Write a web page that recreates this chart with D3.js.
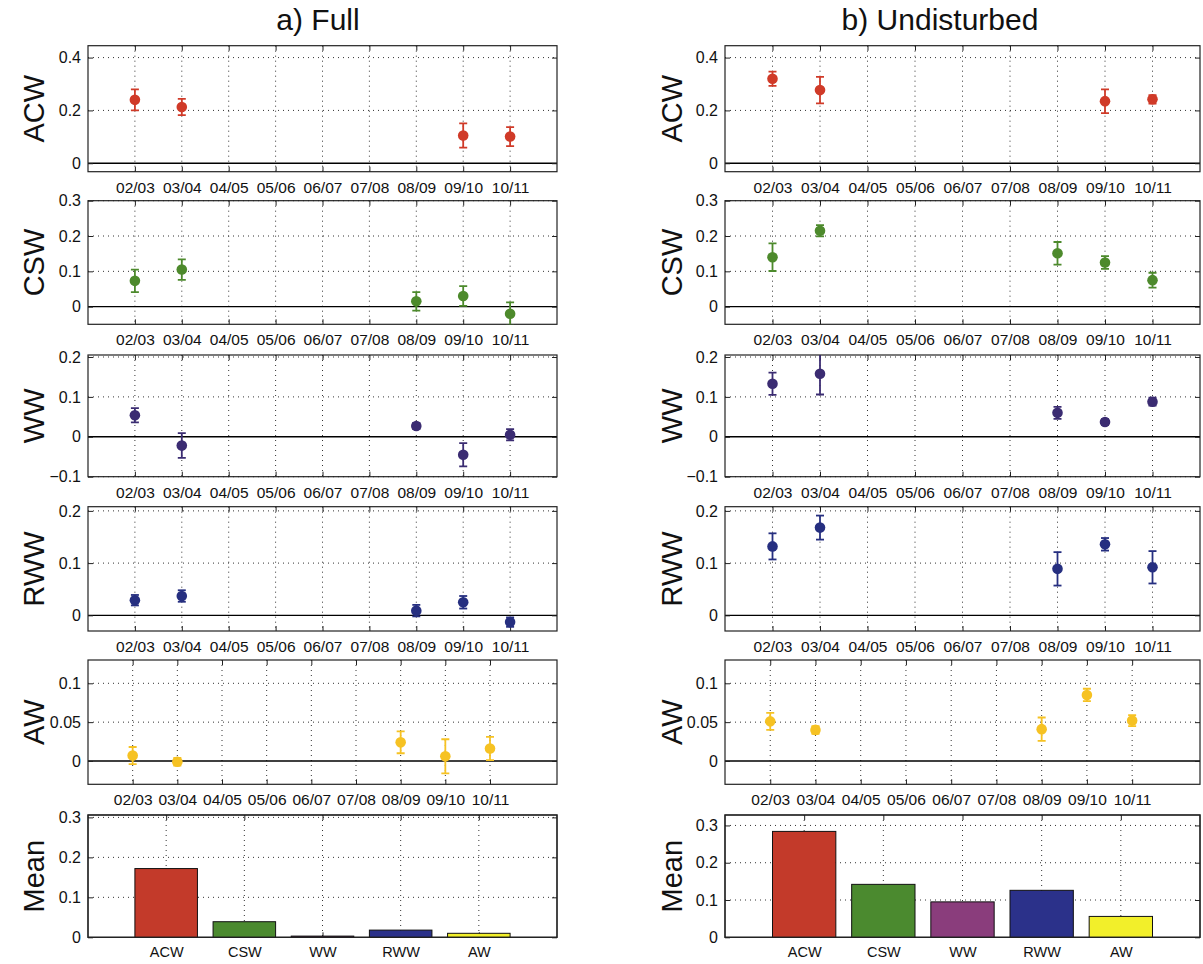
<!DOCTYPE html>
<html><head><meta charset="utf-8">
<script src="https://cdn.jsdelivr.net/npm/d3@7"></script>
<style>
body{margin:0;background:#fff;}
svg{display:block;font-family:"Liberation Sans",Arial,Helvetica,sans-serif;}
</style></head><body><svg id="chart" width="1203" height="964"></svg>
<script>
// ---------- data ----------
const seasons = ["02/03","03/04","04/05","05/06","06/07","07/08","08/09","09/10","10/11"];
const waterTypes = ["ACW","CSW","WW","RWW","AW"];

// a) Full : values and error half-widths per season (null = no data)
const fullACW    = [0.240, 0.213, null, null, null, null, null, 0.105, 0.101];
const fullACWErr = [0.040, 0.031, null, null, null, null, null, 0.046, 0.036];
const fullCSW    = [0.073, 0.105, null, null, null, null, 0.015, 0.030, -0.020];
const fullCSWErr = [0.032, 0.029, null, null, null, null, 0.026, 0.028, 0.032];
const fullWW     = [0.054, -0.022, null, null, null, null, 0.027, -0.045, 0.005];
const fullWWErr  = [0.018, 0.031, null, null, null, null, 0.008, 0.029, 0.014];
const fullRWW    = [0.029, 0.037, null, null, null, null, 0.009, 0.025, -0.013];
const fullRWWErr = [0.010, 0.011, null, null, null, null, 0.011, 0.012, 0.009];
const fullAW     = [0.007, -0.001, null, null, null, null, 0.024, 0.006, 0.016];
const fullAWErr  = [0.011, 0.005, null, null, null, null, 0.014, 0.022, 0.015];
const fullMean   = [0.172, 0.039, 0.003, 0.018, 0.010];

// b) Undisturbed
const undACW    = [0.320, 0.277, null, null, null, null, null, 0.235, 0.242];
const undACWErr = [0.027, 0.050, null, null, null, null, null, 0.045, 0.016];
const undCSW    = [0.140, 0.215, null, null, null, null, 0.151, 0.125, 0.075];
const undCSWErr = [0.039, 0.016, null, null, null, null, 0.032, 0.018, 0.021];
const undWW     = [0.133, 0.158, null, null, null, null, 0.060, 0.037, 0.088];
const undWWErr  = [0.028, 0.052, null, null, null, null, 0.015, 0.007, 0.010];
const undRWW    = [0.132, 0.168, null, null, null, null, 0.089, 0.136, 0.092];
const undRWWErr = [0.025, 0.023, null, null, null, null, 0.032, 0.012, 0.031];
const undAW     = [0.051, 0.040, null, null, null, null, 0.041, 0.085, 0.052];
const undAWErr  = [0.011, 0.005, null, null, null, null, 0.015, 0.008, 0.007];
const undMean   = [0.284, 0.142, 0.095, 0.126, 0.056];

// tick labels
const yTicksACW  = [0, 0.2, 0.4];
const yTicksCSW  = [0, 0.1, 0.2, 0.3];
const yTicksWW   = [-0.1, 0, 0.1, 0.2];
const yTicksRWW  = [0, 0.1, 0.2];
const yTicksAW   = [0, 0.05, 0.1];
const yTicksMean = [0, 0.1, 0.2, 0.3];

// ---------- styling / layout ----------
const markerColors = {ACW:"#d03a28", CSW:"#4d8a2c", WW:"#3b2c72", RWW:"#262f80", AW:"#f6c223"};
const barColors    = {ACW:"#c33a2a", CSW:"#4b8a2f", WW:"#8a3d7c", RWW:"#2b318a", AW:"#f2ef2a"};
const FONT = '"Liberation Sans",Arial,sans-serif';

const columns = [
  {title:"a) Full", titleX:318, x0:88, x1:557, ylabX:34,
   series:[[fullACW,fullACWErr],[fullCSW,fullCSWErr],[fullWW,fullWWErr],[fullRWW,fullRWWErr],[fullAW,fullAWErr]],
   mean:fullMean, meanMax:0.306},
  {title:"b) Undisturbed", titleX:940, x0:725, x1:1200, ylabX:672,
   series:[[undACW,undACWErr],[undCSW,undCSWErr],[undWW,undWWErr],[undRWW,undRWWErr],[undAW,undAWErr]],
   mean:undMean, meanMax:0.328}
];
const rows = [
  {name:"ACW", top:45.7, bottom:171.7, dom:[-0.032,0.445], ticks:yTicksACW, xmax:10},
  {name:"CSW", top:200.7, bottom:324.3, dom:[-0.05,0.3], ticks:yTicksCSW, xmax:10},
  {name:"WW",  top:355, bottom:476.7, dom:[-0.1,0.205], ticks:yTicksWW, xmax:10},
  {name:"RWW", top:506.7, bottom:631, dom:[-0.03,0.208], ticks:yTicksRWW, xmax:10},
  {name:"AW",  top:660, bottom:784.3, dom:[-0.03,0.13], ticks:yTicksAW, xmax:10.5}
];
const meanRow = {top:815, bottom:937.3};

const svg = d3.select("#chart");
const fmt = v => v === 0 ? "0" : d3.format("~g")(v);
let clipId = 0;

function frameAndGrid(g, x, y, xt, yt, w, h, zeroLine) {
  g.append("g").selectAll("line").data(xt).join("line")
    .attr("x1", d => x(d)).attr("x2", d => x(d)).attr("y1", 0).attr("y2", h)
    .attr("stroke", "#333").attr("stroke-width", 1).attr("stroke-dasharray", "1,4");
  g.append("g").selectAll("line").data(yt.filter(d => d !== 0)).join("line")
    .attr("x1", 0).attr("x2", w).attr("y1", d => y(d)).attr("y2", d => y(d))
    .attr("stroke", "#333").attr("stroke-width", 1).attr("stroke-dasharray", "1,4");
  if (zeroLine) {
    g.append("line").attr("x1", 0).attr("x2", w).attr("y1", y(0)).attr("y2", y(0))
      .attr("stroke", "#000").attr("stroke-width", 1.4);
  }
  const tk = 5;
  g.append("g").attr("transform", `translate(0,${h})`)
    .call(d3.axisBottom(x).tickValues(xt).tickSizeInner(-tk).tickSizeOuter(0).tickFormat(""))
    .call(s => s.select(".domain").remove());
  g.append("g")
    .call(d3.axisTop(x).tickValues(xt).tickSizeInner(-tk).tickSizeOuter(0).tickFormat(""))
    .call(s => s.select(".domain").remove());
  g.append("g").attr("transform", `translate(${w},0)`)
    .call(d3.axisRight(y).tickValues(yt).tickSizeInner(-tk).tickSizeOuter(0).tickFormat(""))
    .call(s => s.select(".domain").remove());
  g.append("g")
    .call(d3.axisLeft(y).tickValues(yt).tickSizeInner(-tk).tickSizeOuter(0).tickPadding(7).tickFormat(fmt))
    .call(s => s.select(".domain").remove())
    .call(s => s.selectAll("text").attr("font-size", 16).attr("fill", "#111").attr("font-family", FONT));
  g.selectAll(".tick line").attr("stroke", "#222");
  g.append("rect").attr("width", w).attr("height", h)
    .attr("fill", "none").attr("stroke", "#222").attr("stroke-width", 1.2);
}

columns.forEach(col => {
  svg.append("text").attr("x", col.titleX).attr("y", 30).attr("text-anchor", "middle")
    .attr("font-size", 30).attr("fill", "#111").text(col.title);
  const w = col.x1 - col.x0;

  rows.forEach((row, ri) => {
    const h = row.bottom - row.top;
    const g = svg.append("g").attr("transform", `translate(${col.x0},${row.top})`);
    const x = d3.scaleLinear().domain([0, row.xmax]).range([0, w]);
    const y = d3.scaleLinear().domain(row.dom).range([h, 0]);
    const xt = d3.range(1, seasons.length + 1);
    frameAndGrid(g, x, y, xt, row.ticks, w, h, true);

    g.append("g").attr("transform", `translate(0,${h})`)
      .call(d3.axisBottom(x).tickValues(xt).tickSize(0).tickPadding(10).tickFormat(i => seasons[i - 1]))
      .call(s => s.select(".domain").remove())
      .call(s => s.selectAll("text").attr("font-size", 15.5).attr("fill", "#111").attr("font-family", FONT));

    svg.append("text")
      .attr("transform", `translate(${col.ylabX},${row.top + h / 2}) rotate(-90)`)
      .attr("text-anchor", "middle").attr("dy", "0.36em")
      .attr("font-size", 29).attr("fill", "#111").text(row.name);

    const id = "clip" + (clipId++);
    g.append("clipPath").attr("id", id).append("rect").attr("width", w).attr("height", h);
    const [vals, errs] = col.series[ri];
    const pts = vals.map((v, i) => ({i: i + 1, v, e: errs[i]})).filter(d => d.v !== null);
    const color = markerColors[row.name];
    const dg = g.append("g").attr("clip-path", `url(#${id})`);
    const cap = 4;
    const eb = dg.selectAll("g").data(pts).join("g");
    eb.append("line").attr("x1", d => x(d.i)).attr("x2", d => x(d.i))
      .attr("y1", d => y(d.v - d.e)).attr("y2", d => y(d.v + d.e))
      .attr("stroke", color).attr("stroke-width", 1.8);
    eb.append("line").attr("x1", d => x(d.i) - cap).attr("x2", d => x(d.i) + cap)
      .attr("y1", d => y(d.v + d.e)).attr("y2", d => y(d.v + d.e))
      .attr("stroke", color).attr("stroke-width", 1.8);
    eb.append("line").attr("x1", d => x(d.i) - cap).attr("x2", d => x(d.i) + cap)
      .attr("y1", d => y(d.v - d.e)).attr("y2", d => y(d.v - d.e))
      .attr("stroke", color).attr("stroke-width", 1.8);
    eb.append("circle").attr("cx", d => x(d.i)).attr("cy", d => y(d.v)).attr("r", 5.3)
      .attr("fill", color);
  });

  // mean bar panel
  const h = meanRow.bottom - meanRow.top;
  const g = svg.append("g").attr("transform", `translate(${col.x0},${meanRow.top})`);
  const x = d3.scaleLinear().domain([0, waterTypes.length + 1]).range([0, w]);
  const y = d3.scaleLinear().domain([0, col.meanMax]).range([h, 0]);
  const xt = d3.range(1, waterTypes.length + 1);
  frameAndGrid(g, x, y, xt, yTicksMean, w, h, false);
  const bw = x(0.8) - x(0);
  g.selectAll("rect.bar").data(col.mean.map((v, i) => ({t: waterTypes[i], v, i: i + 1}))).join("rect")
    .attr("class", "bar")
    .attr("x", d => x(d.i) - bw / 2).attr("width", bw)
    .attr("y", d => y(d.v)).attr("height", d => h - y(d.v))
    .attr("fill", d => barColors[d.t]).attr("stroke", "#111").attr("stroke-width", 1);
  g.append("rect").attr("width", w).attr("height", h)
    .attr("fill", "none").attr("stroke", "#222").attr("stroke-width", 1.2);
  g.append("g").attr("transform", `translate(0,${h})`)
    .call(d3.axisBottom(x).tickValues(xt).tickSize(0).tickPadding(9).tickFormat(i => waterTypes[i - 1]))
    .call(s => s.select(".domain").remove())
    .call(s => s.selectAll("text").attr("font-size", 14.5).attr("fill", "#111").attr("font-family", FONT));
  svg.append("text")
    .attr("transform", `translate(${col.ylabX},${meanRow.top + h / 2}) rotate(-90)`)
    .attr("text-anchor", "middle").attr("dy", "0.36em")
    .attr("font-size", 29).attr("fill", "#111").text("Mean");
});
</script></body></html>
